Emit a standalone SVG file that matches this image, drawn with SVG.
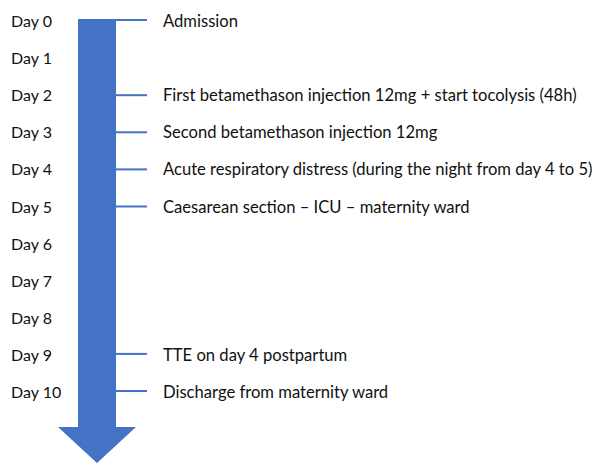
<svg xmlns="http://www.w3.org/2000/svg" width="601" height="463" viewBox="0 0 601 463">
<style>
text{font-family:Lato,"Open Sans","Liberation Sans",sans-serif;font-size:16px;fill:#111}
.ev{font-size:16.6px}
.tick{stroke:#4472C4;stroke-width:2;fill:none}
</style>
<rect width="601" height="463" fill="#fff"/>
<g id="arrow">
<polygon points="78,19 116,19 116,427 136,427 97,463 58,427 78,427" fill="#4472C4"/>
</g>
<g id="connectors">
<line class="tick" x1="116" y1="20" x2="147" y2="20"/>
<line class="tick" x1="116" y1="95.2" x2="147" y2="95.2"/>
<line class="tick" x1="116" y1="132.3" x2="147" y2="132.3"/>
<line class="tick" x1="116" y1="169.4" x2="147" y2="169.4"/>
<line class="tick" x1="116" y1="206.5" x2="147" y2="206.5"/>
<line class="tick" x1="116" y1="353.9" x2="147" y2="353.9"/>
<line class="tick" x1="116" y1="391" x2="147" y2="391"/>
</g>
<g id="days">
<text x="11" y="27">Day 0</text>
<text x="11" y="64.1">Day 1</text>
<text x="11" y="101.2">Day 2</text>
<text x="11" y="138.3">Day 3</text>
<text x="11" y="175.4">Day 4</text>
<text x="11" y="212.5">Day 5</text>
<text x="11" y="249.6">Day 6</text>
<text x="11" y="286.7">Day 7</text>
<text x="11" y="323.8">Day 8</text>
<text x="11" y="360.9">Day 9</text>
<text x="11" y="398">Day 10</text>
</g>
<g id="events">
<text class="ev" x="163" y="27">Admission</text>
<text class="ev" x="163" y="101.2">First betamethason injection 12mg + start tocolysis (48h)</text>
<text class="ev" x="163" y="138.3">Second betamethason injection 12mg</text>
<text class="ev" x="163" y="175.4">Acute respiratory distress (during the night from day 4 to 5)</text>
<text class="ev" x="163" y="212.5">Caesarean section – ICU – maternity ward</text>
<text class="ev" x="163" y="360.9">TTE on day 4 postpartum</text>
<text class="ev" x="163" y="398">Discharge from maternity ward</text>
</g>
</svg>
